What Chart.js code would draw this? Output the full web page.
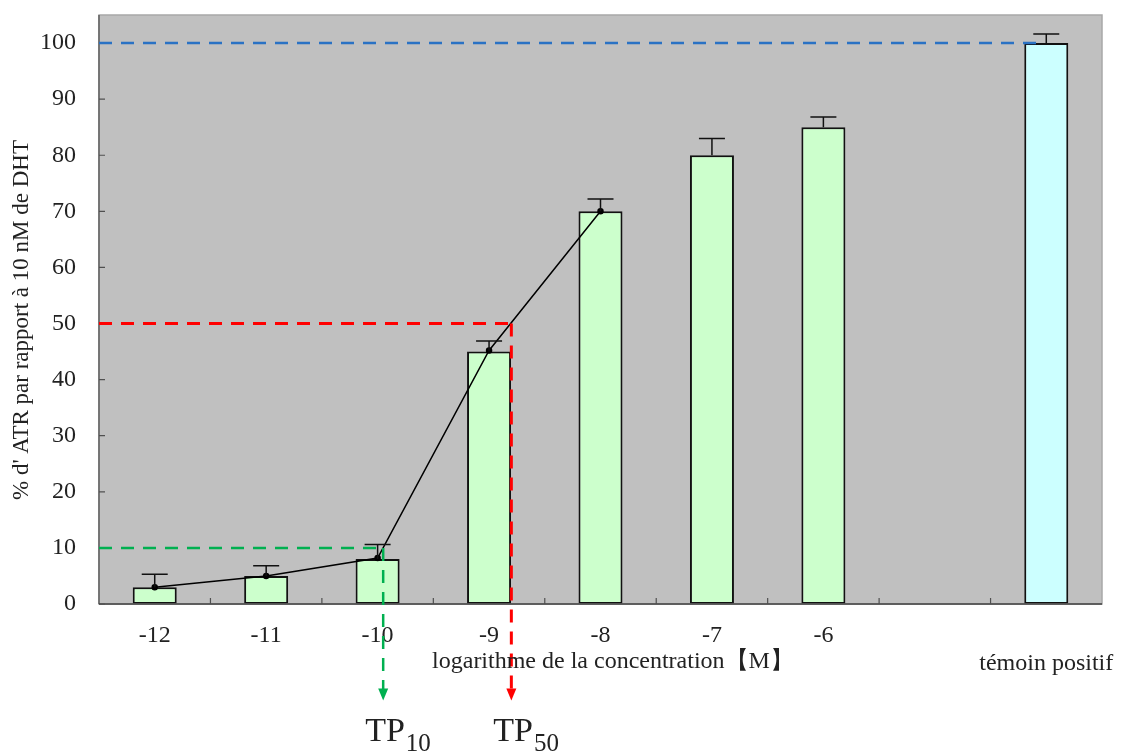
<!doctype html>
<html lang="fr">
<head>
<meta charset="utf-8">
<title>TP10 / TP50 - % d'ATR</title>
<style>
  * { margin: 0; padding: 0; }
  body { background: #fff; }
  canvas { display: block; }
</style>
</head>
<body>
<canvas id="myChart" width="1130" height="753"></canvas>
<script src="https://cdn.jsdelivr.net/npm/chart.js/dist/chart.umd.min.js"></script>
<script>
// values
const categories = ['-12', '-11', '-10', '-9', '-8', '-7', '-6', '', 'témoin positif'];
const meanValues = [3, 5, 8, 45, 70, 80, 85, null, 100];
const errorTops = [5.3, 6.8, 10.6, 46.9, 72.2, 83, 86.8, null, 101.6];
const curveValues = [3, 5, 8.2, 45.2, 70, null, null, null, null];
const yTicks = [0, 10, 20, 30, 40, 50, 60, 70, 80, 90, 100];

// reference lines: TP10 / TP50 (log concentration) and the 100 % control level
const tpLevels = [10, 50];
const tpLogConc = [-9.95, -8.8];
const tpNames = ['10', '50'];
const tpColors = ['#00b050', '#ff0000'];
const controlLevel = 100;
const controlLineEnd = 7.96; // category index where the blue dashes stop

const serif = '"Liberation Serif", "Times New Roman", serif';
const barColors = categories.map(c => c === 'témoin positif' ? '#ccffff' : '#ccffcc');

// log concentration -> category index (-12 is the first category)
const logToIndex = v => v + 12;

function dashedLine(ctx, x1, y1, x2, y2, color, width) {
  ctx.save();
  ctx.strokeStyle = color;
  ctx.lineWidth = width;
  ctx.setLineDash([13, 9]);
  ctx.beginPath();
  ctx.moveTo(x1, y1);
  ctx.lineTo(x2, y2);
  ctx.stroke();
  ctx.restore();
}

const figureExtras = {
  id: 'figureExtras',
  beforeDraw(chart) {
    const { ctx, chartArea: a } = chart;
    ctx.save();
    ctx.fillStyle = '#c0c0c0';
    ctx.fillRect(a.left, a.top, a.right - a.left, a.bottom - a.top);
    ctx.restore();
  },
  afterDatasetsDraw(chart) {
    const { ctx, chartArea: a, scales: { x, y } } = chart;
    const barMeta = chart.getDatasetMeta(1);

    // upper error bars
    ctx.save();
    ctx.strokeStyle = '#111';
    ctx.lineWidth = 1.5;
    errorTops.forEach((top, i) => {
      if (top == null) return;
      const bx = barMeta.data[i].x;
      const y0 = y.getPixelForValue(meanValues[i]);
      const y1 = y.getPixelForValue(top);
      ctx.beginPath();
      ctx.moveTo(bx, y0);
      ctx.lineTo(bx, y1);
      ctx.moveTo(bx - 13, y1);
      ctx.lineTo(bx + 13, y1);
      ctx.stroke();
    });
    ctx.restore();

    // frame + axes
    ctx.save();
    ctx.lineWidth = 1.5;
    ctx.strokeStyle = '#a8a8a8';
    ctx.strokeRect(a.left, a.top, a.right - a.left, a.bottom - a.top);
    ctx.strokeStyle = '#606060';
    ctx.beginPath();
    ctx.moveTo(a.left, a.top);
    ctx.lineTo(a.left, a.bottom);
    ctx.stroke();
    ctx.strokeStyle = '#404040';
    ctx.beginPath();
    ctx.moveTo(a.left, a.bottom);
    ctx.lineTo(a.right, a.bottom);
    ctx.stroke();
    // inward tick marks
    ctx.lineWidth = 1.2;
    ctx.strokeStyle = '#505050';
    ctx.beginPath();
    yTicks.forEach(v => {
      const py = y.getPixelForValue(v);
      ctx.moveTo(a.left, py);
      ctx.lineTo(a.left + 6, py);
    });
    for (let i = 0; i < categories.length - 1; i++) {
      const px = x.getPixelForValue(i + 0.5);
      ctx.moveTo(px, a.bottom);
      ctx.lineTo(px, a.bottom - 6);
    }
    ctx.stroke();
    ctx.restore();

    // dashed guides
    dashedLine(ctx, a.left, y.getPixelForValue(controlLevel),
      x.getPixelForValue(controlLineEnd), y.getPixelForValue(controlLevel), '#2a72c4', 2.5);

    const tipY = y.getPixelForValue(-17.2);
    tpLevels.forEach((lvl, k) => {
      const px = x.getPixelForValue(logToIndex(tpLogConc[k]));
      const py = y.getPixelForValue(lvl);
      const w = k === 1 ? 3 : 2.5;
      dashedLine(ctx, a.left, py, px, py, tpColors[k], w);
      dashedLine(ctx, px, py, px, tipY - 8, tpColors[k], w);
      ctx.save();
      ctx.fillStyle = tpColors[k];
      ctx.beginPath();
      ctx.moveTo(px, tipY);
      ctx.lineTo(px - 5, tipY - 12);
      ctx.lineTo(px + 5, tipY - 12);
      ctx.closePath();
      ctx.fill();
      ctx.restore();
    });
  },
  afterDraw(chart) {
    const { ctx, scales: { x } } = chart;
    ctx.save();
    ctx.fillStyle = '#222';
    ctx.textBaseline = 'alphabetic';
    // x axis title (sits right of the plot centre in the source)
    ctx.font = '24px ' + serif;
    ctx.textAlign = 'center';
    ctx.fillText('logarithme de la concentration【M】', 613, 668);

    // y axis title, a little below the plot centre in the source
    ctx.save();
    ctx.translate(22, 320);
    ctx.rotate(-Math.PI / 2);
    ctx.font = '23px ' + serif;
    ctx.textBaseline = 'middle';
    ctx.fillText("% d' ATR par rapport à 10 nM de DHT", 0, 0);
    ctx.restore();

    // TP labels under the arrows
    ctx.textAlign = 'left';
    tpLogConc.forEach((lc, k) => {
      const px = x.getPixelForValue(logToIndex(lc)) - 18;
      ctx.font = '34px ' + serif;
      ctx.fillText('TP', px, 741);
      const w = ctx.measureText('TP').width;
      ctx.font = '25px ' + serif;
      ctx.fillText(tpNames[k], px + w + 1, 751);
    });
    ctx.restore();
  }
};

const data = {
  labels: categories,
  datasets: [{
    type: 'line',
    label: 'courbe',
    data: curveValues,
    borderColor: '#000',
    borderWidth: 1.5,
    pointRadius: 2.5,
    pointBackgroundColor: '#000',
    pointBorderColor: '#000',
    spanGaps: false,
    order: 0
  }, {
    type: 'bar',
    label: '% ATR',
    data: meanValues,
    backgroundColor: barColors,
    borderColor: '#111',
    borderWidth: 2,
    borderSkipped: false,
    barPercentage: 0.395,
    categoryPercentage: 1,
    order: 1
  }]
};

const config = {
  type: 'bar',
  data,
  options: {
    responsive: false,
    animation: false,
    layout: { padding: { top: 15, right: 28, bottom: 0, left: 0 } },
    plugins: {
      legend: { display: false },
      tooltip: { enabled: false }
    },
    scales: {
      x: {
        grid: { display: false, drawTicks: false },
        border: { display: false },
        afterFit: s => { s.height = 149; s.paddingLeft = 0; s.paddingRight = 0; },
        ticks: {
          color: '#222',
          padding: 17,
          maxRotation: 0,
          autoSkip: false,
          font: { family: serif, size: 24 },
          callback: function (value) {
            const l = this.getLabelForValue(value);
            return l === 'témoin positif' ? ['', l] : l;
          }
        }
      },
      y: {
        min: 0,
        max: 105,
        grid: { display: false, drawTicks: false },
        border: { display: false },
        afterFit: s => { s.width = 99; s.paddingTop = 0; s.paddingBottom = 0; },
        afterBuildTicks: s => { s.ticks = yTicks.map(v => ({ value: v })); },
        ticks: {
          color: '#222',
          padding: 23,
          font: { family: serif, size: 24 }
        }
      }
    }
  },
  plugins: [figureExtras]
};

const myChart = new Chart(document.getElementById('myChart'), config);
</script>
</body>
</html>
